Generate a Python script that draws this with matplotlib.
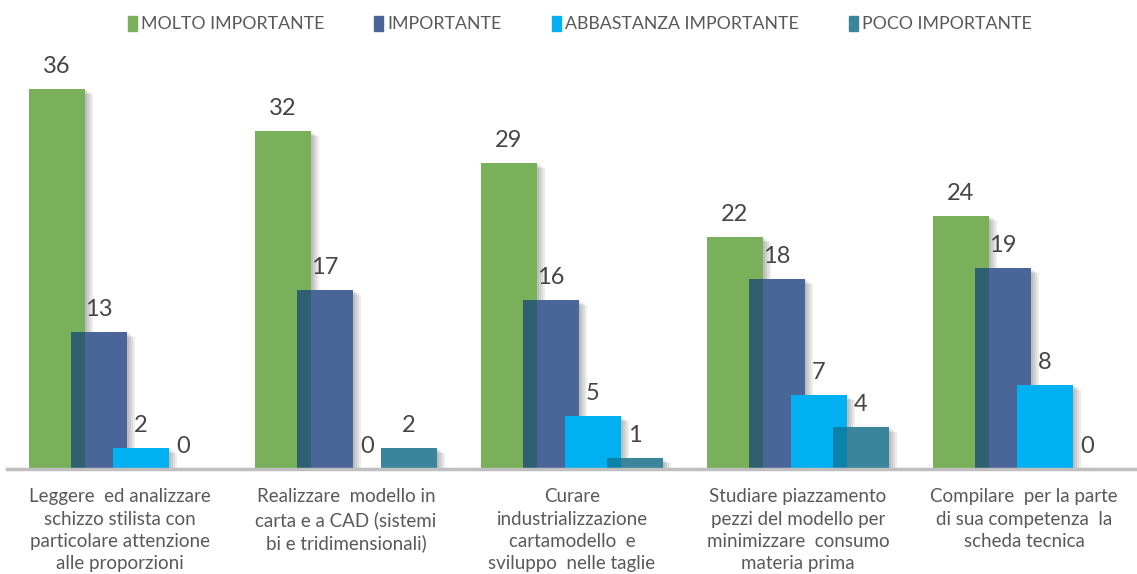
import matplotlib
matplotlib.use("Agg")
import matplotlib.pyplot as plt
import matplotlib.patheffects as pe
from matplotlib.patches import Rectangle
import numpy as np

categories = [
    "Leggere  ed analizzare\nschizzo stilista con\nparticolare attenzione\nalle proporzioni",
    "Realizzare  modello in\ncarta e a CAD (sistemi\nbi e tridimensionali)",
    "Curare\nindustrializzazione\ncartamodello  e\nsviluppo  nelle taglie",
    "Studiare piazzamento\npezzi del modello per\nminimizzare  consumo\nmateria prima",
    "Compilare  per la parte\ndi sua competenza  la\nscheda tecnica",
]
series_names = ["MOLTO IMPORTANTE", "IMPORTANTE", "ABBASTANZA IMPORTANTE", "POCO IMPORTANTE"]
molto = [36, 32, 29, 22, 24]
importante = [13, 17, 16, 18, 19]
abbastanza = [2, 0, 5, 7, 8]
poco = [0, 2, 1, 4, 0]

colors = ["#7AB05A", "#4A6597", "#00B0F0", "#3A849C"]
overlap_colors = [None, "#2F6070", "#00B0F0", "#0B82A8"]

plt.rcParams['font.family'] = ['Lato', 'DejaVu Sans']

W, H = 1137, 574
fig = plt.figure(figsize=(W / 100, H / 100), dpi=100)
ax = fig.add_axes([7 / W, 1 - 469 / H, 1 - 7 / W, 40 * 10.556 / H])

data = [molto, importante, abbastanza, poco]
x = np.arange(len(categories))
width = 56 / 226
step = 42 / 226

shadow = [pe.SimplePatchShadow(offset=(d, -0.6 * d), shadow_rgbFace="#000000", alpha=0.07)
          for d in (1.5, 3, 4.5, 6)] + [pe.Normal()]

for j, vals in enumerate(data):
    pos = x + (j - 1.5) * step
    ax.bar(pos, vals, width=width, color=colors[j], zorder=2 + j,
           path_effects=shadow, linewidth=0)
    if j > 0:
        prev = np.array(data[j - 1])
        cur = np.array(vals)
        ov_h = np.minimum(prev, cur)
        ov_left = pos - width / 2
        ov_w = (pos - step + width / 2) - ov_left
        ax.bar(ov_left, ov_h, width=ov_w, align="edge", color=overlap_colors[j],
               zorder=2.5 + j, linewidth=0)
    for p, v in zip(pos, vals):
        ax.annotate(str(v), (p, v), xytext=(0, 11.5), textcoords="offset points",
                    ha="center", va="baseline", fontsize=17, color="#454545", zorder=20)

ax.set_xlim(-0.5, 4.5)
ax.set_ylim(0, 40)
for s in ["top", "right", "left"]:
    ax.spines[s].set_visible(False)
ax.spines["bottom"].set_color("#BFBFBF")
ax.spines["bottom"].set_linewidth(2.5)
ax.spines["bottom"].set_zorder(30)
ax.set_yticks([])
ax.set_xticks(x)
ax.set_xticklabels(categories, fontsize=13.5, color="#595959", linespacing=1.38, va="top")
ax.tick_params(axis="x", length=0, pad=14)

handles = [Rectangle((0, 0), 1, 1, color=c) for c in colors]
fig.legend(handles, series_names, loc="center", bbox_to_anchor=(0.51, 1 - 24 / H), ncol=4,
           frameon=False, labelcolor="#595959", handlelength=0.5,
           handleheight=0.9, handletextpad=0.25, columnspacing=2.8,
           prop={"size": 12.8})

fig.savefig("out.png", dpi=100)
